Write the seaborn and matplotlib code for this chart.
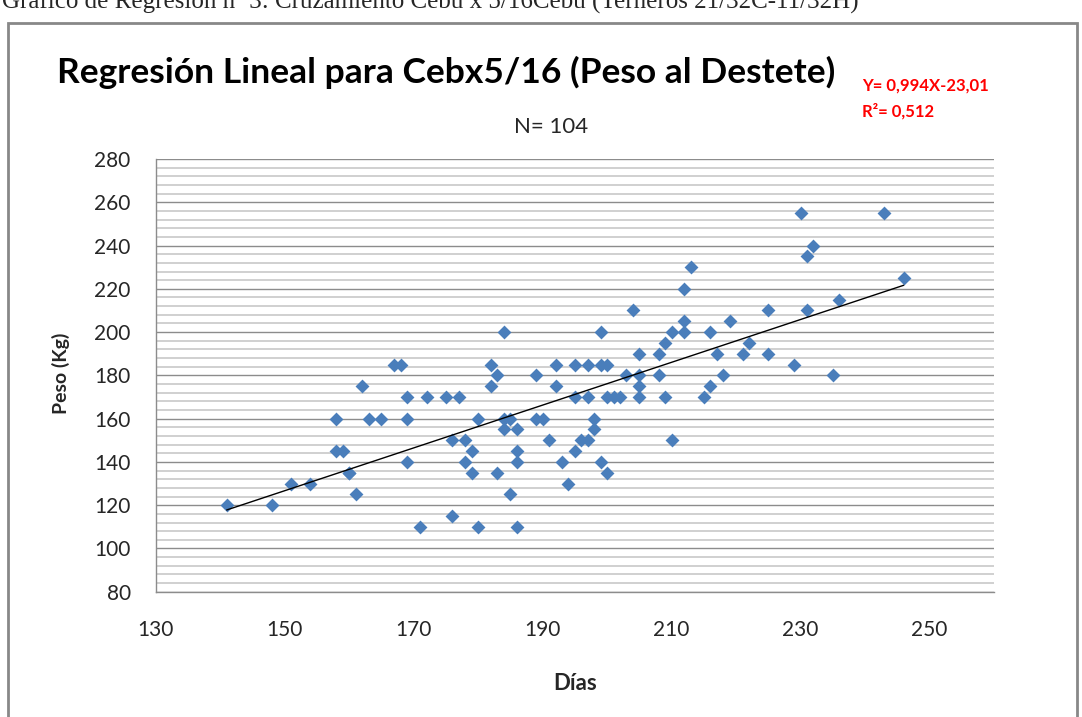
import matplotlib
matplotlib.use("Agg")
import matplotlib.pyplot as plt
from matplotlib.ticker import MultipleLocator
from matplotlib.patches import Rectangle
import pandas as pd
import seaborn as sns

# Días / peso al destete (kg)
DIAS = [141, 148, 151, 154, 158, 158, 159, 160, 160, 161, 162, 163, 165, 167, 168,
        169, 169, 169, 172, 171,
        175, 177, 176, 176, 178, 178, 179, 179, 180, 180, 182, 182, 183, 183, 184,
        184, 185, 184, 185, 186, 186, 186, 186, 189, 189, 190, 191, 192, 192, 193,
        194, 195, 195, 195, 196, 197, 197, 197, 198, 198, 199, 199, 200, 199, 200,
        201, 202, 200, 203, 204, 205, 205, 205, 205, 208, 208, 209, 209, 210, 210,
        212, 212,
        212, 213, 215, 216, 216, 217, 218, 219, 221, 222, 225, 225, 229, 230, 231,
        232, 231, 235, 236, 243, 246]
PESO = [120, 120, 130, 130, 160, 145, 145, 135, 135, 125, 175, 160, 160, 185, 185,
        170, 160, 140, 170, 110,
        170, 170, 150, 115, 150, 140, 145, 135, 160, 110, 185, 175, 180, 135, 200,
        160, 160, 155, 125, 155, 145, 140, 110, 180, 160, 160, 150, 185, 175, 140,
        130, 185, 170, 145, 150, 150, 185, 170, 160, 155, 200, 185, 185, 140, 170,
        170, 170, 135, 180, 210, 190, 180, 175, 170, 190, 180, 195, 170, 200, 150,
        205, 200,
        220, 230, 170, 175, 200, 190, 180, 205, 190, 195, 210, 190, 185, 255, 235,
        240, 210, 180, 215, 255, 225]

X_TICKS = [130, 150, 170, 190, 210, 230, 250]
Y_TICKS = [80, 100, 120, 140, 160, 180, 200, 220, 240, 260, 280]

CAPTION = "Gráfico de Regresión nº 3: Cruzamiento Cebú x 5/16Cebú (Terneros 21/32C-11/32H)"
TITLE = "Regresión Lineal para Cebx5/16 (Peso al Destete)"
SUBTITLE = "N= 104"
EQUATION = ["Y= 0,994X-23,01", "R²= 0,512"]

BLUE = "#4A7EBB"
GRID_MAJOR = "#8c8c8c"
GRID_MINOR = "#c8c8c8"

sns.set_theme(style="white")
plt.rcParams["font.family"] = ["Lato", "DejaVu Sans"]

df = pd.DataFrame({"Días": DIAS, "Peso": PESO})

fig = plt.figure(figsize=(10.82, 7.17), dpi=100)
ax = fig.add_axes([0.1439, 0.1747, 0.7748, 0.6035])

sns.regplot(data=df, x="Días", y="Peso", ax=ax, ci=None, marker="D",
            scatter_kws=dict(s=50, color=BLUE, linewidths=0, zorder=3, alpha=1),
            line_kws=dict(color="black", lw=1, zorder=4))

ax.set_xlim(130, 260)
ax.set_ylim(80, 280)
ax.set_xticks(X_TICKS)
ax.set_yticks(Y_TICKS)
ax.yaxis.set_minor_locator(MultipleLocator(4))
ax.set_axisbelow(True)
ax.yaxis.grid(True, which="major", color=GRID_MAJOR, lw=1)
ax.yaxis.grid(True, which="minor", color=GRID_MINOR, lw=1.2)
ax.xaxis.grid(False)

for side in ("top", "right"):
    ax.spines[side].set_visible(False)
for side in ("left", "bottom"):
    ax.spines[side].set_color(GRID_MAJOR)
    ax.spines[side].set_linewidth(1)

ax.tick_params(axis="both", which="major", direction="out", length=6,
               width=1, color=GRID_MAJOR, labelsize=15, labelcolor="#262626")
ax.tick_params(axis="x", pad=14)
ax.tick_params(axis="y", pad=12)
ax.tick_params(which="minor", length=0)

ax.set_xlabel("Días", fontsize=16, fontweight="bold")
ax.set_ylabel("Peso (Kg)", fontsize=14, fontweight="bold")
ax.xaxis.set_label_coords(0.5, -0.211)
ax.xaxis.label.set_va("center")
ax.yaxis.set_label_coords(-0.1133, 0.5054)
ax.yaxis.label.set_va("center")

fig.text(57 / 1082, 1 - 83 / 717, TITLE, fontsize=25.5, fontweight="bold",
         ha="left", va="baseline", color="black")
fig.text(551 / 1082, 1 - 133 / 717, SUBTITLE, fontsize=16, ha="center",
         va="baseline", color="#262626")
fig.text(862 / 1082, 1 - 91 / 717, EQUATION[0], fontsize=12, fontweight="bold",
         ha="left", va="baseline", color="red")
fig.text(862 / 1082, 1 - 117 / 717, EQUATION[1], fontsize=12, fontweight="bold",
         ha="left", va="baseline", color="red")

fig.text(2 / 1082, 1 - 9 / 717, CAPTION, fontsize=18, ha="left", va="baseline",
         family=["Liberation Serif", "DejaVu Serif"])

fig.patches.append(Rectangle((8 / 1082, -0.1), 1069 / 1082, 1.1 - 23 / 717,
                             transform=fig.transFigure, fill=False,
                             edgecolor="#888888", lw=2))

fig.savefig("out.png", dpi=100)
plt.close(fig)
